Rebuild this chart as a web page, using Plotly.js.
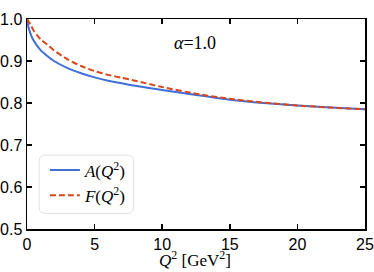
<!DOCTYPE html>
<html><head><meta charset="utf-8">
<script src="https://cdn.plot.ly/plotly-3.0.1.min.js"></script>
<style>html,body{margin:0;padding:0;background:#fff}#g{width:374px;height:272px}</style>
</head><body><div id="g"></div>
<script>
const q2 = [0, 0.1, 0.25, 0.5, 1, 1.5, 2, 3, 4, 5, 6, 7, 8, 10, 12.5, 15, 17.5, 20, 22.5, 25];
const aVals = [1.0, 0.982, 0.966, 0.948, 0.926, 0.912, 0.900, 0.883, 0.871, 0.861, 0.853, 0.847, 0.841, 0.831, 0.819, 0.808, 0.800, 0.794, 0.789, 0.785];
const fVals = [1.0, 0.995, 0.987, 0.972, 0.952, 0.939, 0.925, 0.904, 0.888, 0.876, 0.867, 0.860, 0.853, 0.838, 0.822, 0.810, 0.801, 0.794, 0.789, 0.785];
const names = ['<i>A</i>(<i>Q</i><sup>2</sup>)', '<i>F</i>(<i>Q</i><sup>2</sup>)'];
const xTitle = '<i>Q</i><sup>2</sup> [GeV<sup>2</sup>]';
const serif = 'Liberation Serif, Times New Roman, serif';
const sans = 'Liberation Sans, Arial, sans-serif';
const data = [
  {x: q2, y: aVals, name: names[0], mode: 'lines', line: {color: '#3f6fda', width: 2, shape: 'spline', smoothing: 0.6}},
  {x: q2, y: fVals, name: names[1], mode: 'lines', line: {color: '#d9461c', width: 2, dash: '6px,3px', shape: 'spline', smoothing: 0.6}}
];
const axisCommon = {showgrid: false, zeroline: false, showline: true, linecolor: '#000', linewidth: 1.5,
  mirror: 'ticks', ticks: 'inside', ticklen: 5, tickwidth: 1.5, tickcolor: '#000',
  tickfont: {family: sans, size: 16, color: '#000'}};
const layout = {
  width: 374, height: 272,
  margin: {l: 27, r: 9, t: 19, b: 43},
  paper_bgcolor: '#fff', plot_bgcolor: '#fff',
  showlegend: true,
  legend: {x: 0.053, y: 0.219, xanchor: 'left', yanchor: 'middle', bgcolor: 'rgba(0,0,0,0)',
    font: {family: serif, size: 17, color: '#000'}, itemwidth: 30, tracegroupgap: 0},
  xaxis: Object.assign({}, axisCommon, {range: [0, 25], dtick: 5, tick0: 0}),
  yaxis: Object.assign({}, axisCommon, {range: [0.5, 1.0], dtick: 0.1, tick0: 0.5, tickformat: '.1f'}),
  shapes: [{type: 'path', xref: 'paper', yref: 'paper', line: {color: '#e2e2e2', width: 1},
    path: 'M 0.058 0.352 L 0.295 0.352 Q 0.315 0.352 0.315 0.324 L 0.315 0.10 Q 0.315 0.074 0.295 0.074 L 0.058 0.074 Q 0.036 0.074 0.036 0.10 L 0.036 0.324 Q 0.036 0.352 0.058 0.352 Z'}],
  annotations: [
    {xref: 'paper', yref: 'paper', x: 0.497, y: 0.886, xanchor: 'center', yanchor: 'middle',
     showarrow: false, text: '<i>α</i>=1.0', font: {family: serif, size: 18, color: '#000'}},
    {xref: 'paper', yref: 'paper', x: 0.497, y: -0.205, xanchor: 'center', yanchor: 'bottom',
     showarrow: false, text: xTitle, font: {family: serif, size: 17, color: '#000'}}
  ]
};
Plotly.newPlot('g', data, layout, {displayModeBar: false, staticPlot: true});
</script></body></html>
